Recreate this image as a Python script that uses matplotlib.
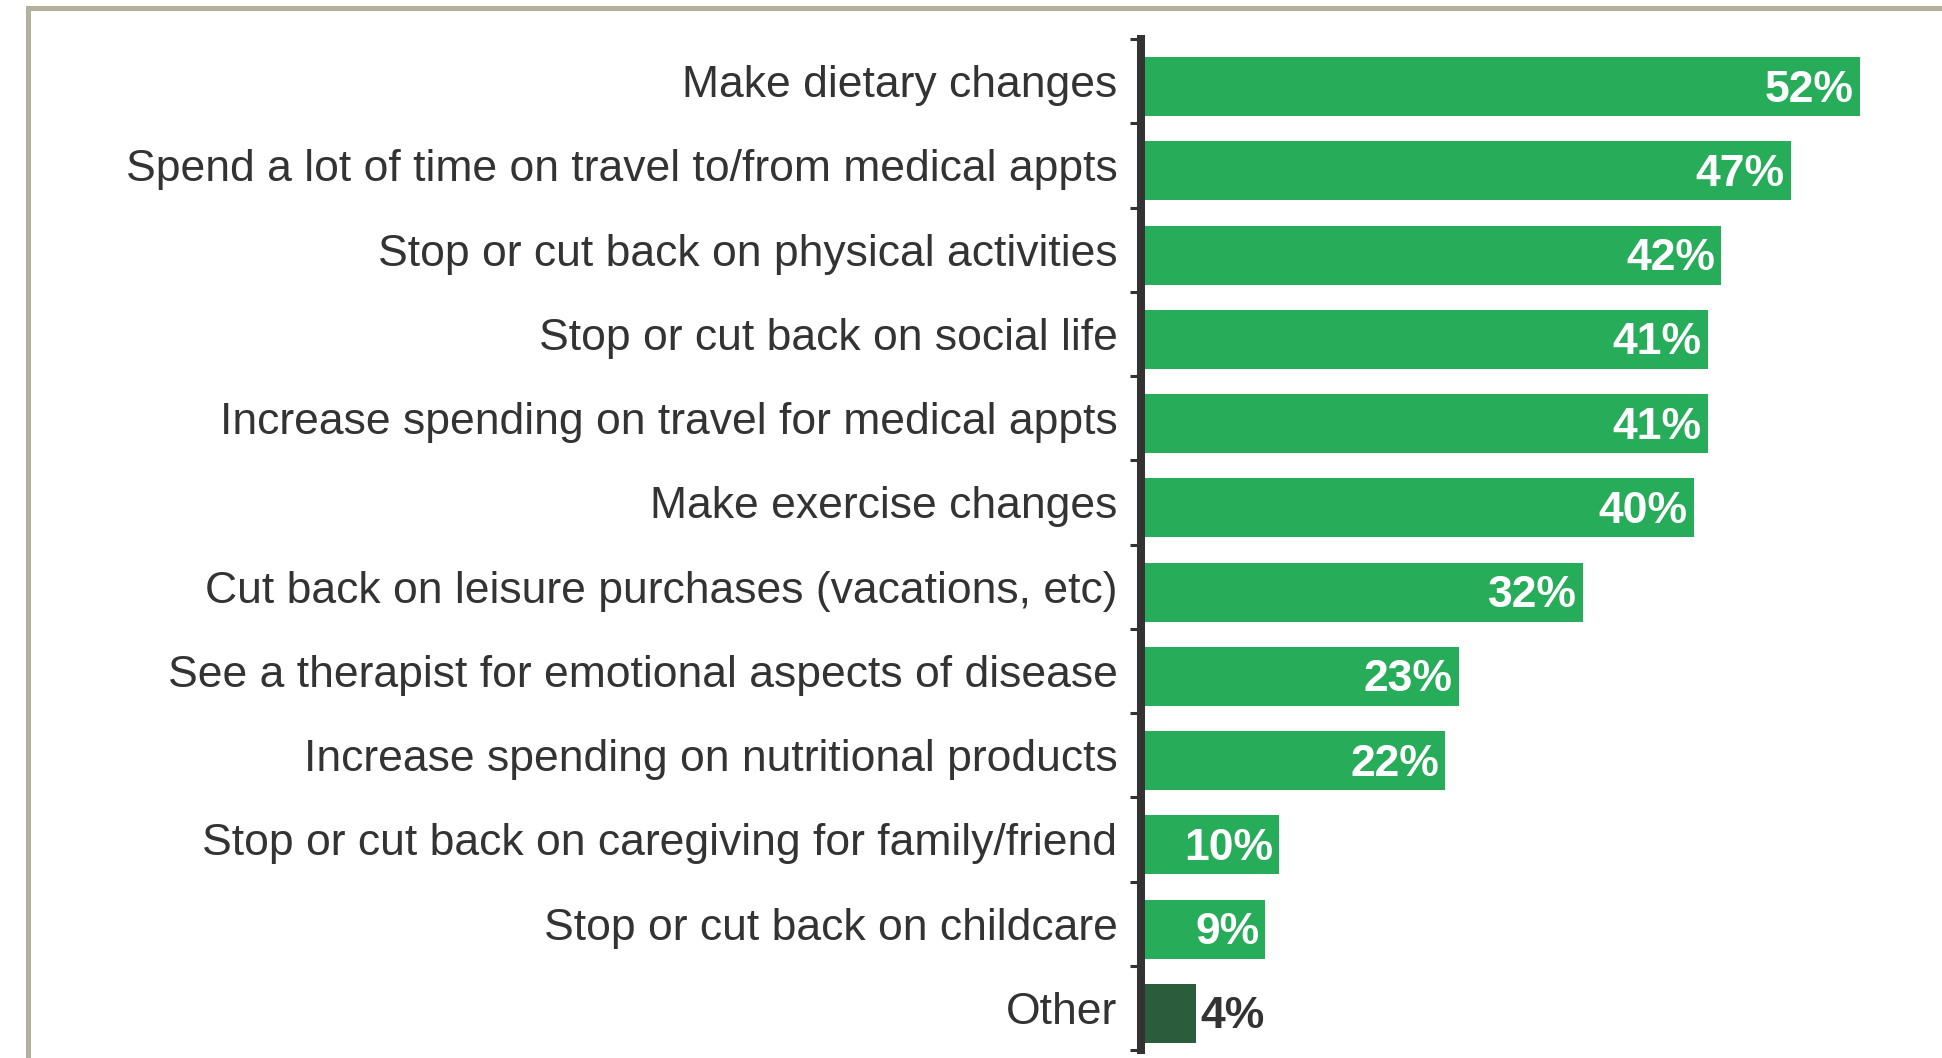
import matplotlib
matplotlib.use("Agg")
import matplotlib.pyplot as plt
from matplotlib.patches import Rectangle

plt.rcParams['font.family'] = ['Liberation Sans', 'DejaVu Sans']

categories = [
    "Make dietary changes",
    "Spend a lot of time on travel to/from medical appts",
    "Stop or cut back on physical activities",
    "Stop or cut back on social life",
    "Increase spending on travel for medical appts",
    "Make exercise changes",
    "Cut back on leisure purchases (vacations, etc)",
    "See a therapist for emotional aspects of disease",
    "Increase spending on nutritional products",
    "Stop or cut back on caregiving for family/friend",
    "Stop or cut back on childcare",
    "Other",
]
values = [52, 47, 42, 41, 41, 40, 32, 23, 22, 10, 9, 4]
labels = [f"{v}%" for v in values]

GREEN = "#27ad5a"
DARK_GREEN = "#2a5d3c"
TEXT = "#333333"
FRAME = "#b3b19b"

W, H = 1942, 1058
fig = plt.figure(figsize=(W / 100, H / 100), dpi=100)
fig.patch.set_facecolor("white")

# outer frame, running off the right and bottom edges
fig.patches.append(Rectangle((27.5 / W, -0.2), 1.5, 1 - 8.5 / H + 0.2,
                             transform=fig.transFigure, fill=False,
                             edgecolor=FRAME, linewidth=3.6, zorder=0))

left_px, top_px, bottom_px = 1141, 39, 1050
ax = fig.add_axes([left_px / W, 1 - bottom_px / H,
                   (W - left_px) / W, (bottom_px - top_px) / H])

n = len(categories)
pos = list(range(n))
colors = [GREEN] * (n - 1) + [DARK_GREEN]
bar_y = [p + 0.065 for p in pos]
ax.barh(bar_y, values, height=0.70, color=colors, zorder=2)

ax.set_xlim(0, (W - left_px) / 13.82)
ax.set_ylim(n - 0.5, -0.5)

for spine in ("top", "right", "bottom"):
    ax.spines[spine].set_visible(False)
ax.spines["left"].set_linewidth(5.8)
ax.spines["left"].set_color(TEXT)
ax.spines["left"].set_capstyle("projecting")
ax.spines["left"].set_zorder(3)

ax.set_xticks([])
ax.set_yticks([p - 0.5 for p in pos] + [n - 0.5])
ax.set_yticklabels([])
ax.tick_params(axis="y", which="major", length=8, width=2.2, color=TEXT)
ax.set_yticks(pos, minor=True)
ax.set_yticklabels(categories, minor=True)
ax.tick_params(axis="y", which="minor", length=0, pad=17,
               labelsize=32, labelcolor=TEXT)

for y, v, lab, c in zip(bar_y, values, labels, colors):
    if c == DARK_GREEN:
        ax.annotate(lab, (v, y), xytext=(3, -2.5), textcoords="offset points",
                    ha="left", va="center", fontsize=32, fontweight="bold",
                    color=TEXT)
    else:
        ax.annotate(lab, (v, y), xytext=(-4.5, -2.5), textcoords="offset points",
                    ha="right", va="center", fontsize=32, fontweight="bold",
                    color="white")

fig.savefig("out.png", dpi=100, facecolor="white")
